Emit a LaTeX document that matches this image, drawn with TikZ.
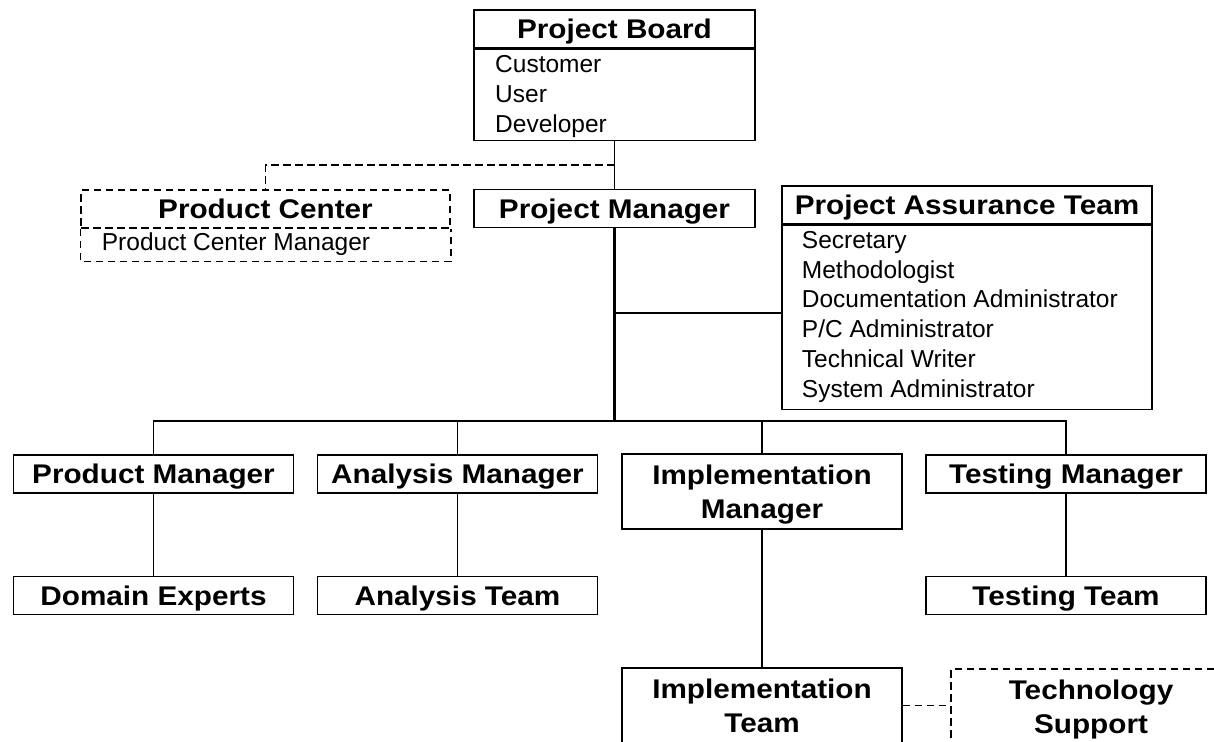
\documentclass[tikz,border=0pt]{standalone}
\usepackage{fontspec}
\setmainfont{Liberation Sans}
\newfontfamily\titlefont[FakeStretch=1.1]{Liberation Sans}
\begin{document}
\begin{tikzpicture}[x=1pt,y=-1pt,
  box/.style={draw, line width=1.5pt, rectangle, inner sep=0pt,
    minimum width=280pt, minimum height=38pt,
    font=\titlefont\bfseries\fontsize{27}{34}\selectfont,
    text height=19.5pt, text depth=0pt},
  tallbox/.style={box, minimum height=75pt, text height=53.5pt},
  dashbox/.style={dash pattern=on 7.5pt off 4.5pt},
  bodybox/.style={draw, line width=1.5pt, rectangle, inner sep=0pt, anchor=north},
  item/.style={anchor=base west, inner sep=0pt, font=\fontsize{24.5}{29}\selectfont},
  link/.style={line width=1.3pt},
  dlink/.style={link, dash pattern=on 7.5pt off 4.5pt},
  trunk/.style={line width=2.6pt}
]
\useasboundingbox (0,0) rectangle (1214,741);
\clip (0,0) rectangle (1214,741);

% Project Board with its members
\node[box, minimum width=281pt] (pb) at (614.5,29) {Project Board};
\node[bodybox, minimum width=281pt, minimum height=91pt] (pbbody) at (pb.south) {};
\node[item] (cust) at (495,73) {Customer};
\node[item] (user) at (495,102.5) {User};
\node[item] (dev) at (495,132) {Developer};

% Product Center (dotted line of authority)
\node[box, dashbox, minimum width=369pt] (pc) at (265.5,209) {Product Center};
\node[bodybox, draw=none, minimum width=369pt, minimum height=31pt] (pcbody) at (pc.south) {};
\draw[line width=1.5pt, dashbox] (pcbody.north west) -- (pcbody.south west)
  -- (pcbody.south east) -- (pcbody.north east);
\node[item] (pcm) at (101.7,250) {Product Center Manager};

% Project Manager
\node[box, minimum width=281pt] (pm) at (614.5,208.5) {Project Manager};

% Project Assurance Team
\node[box, minimum width=370pt] (pat) at (967,205) {Project Assurance Team};
\node[bodybox, minimum width=370pt, minimum height=184pt] (patbody) at (pat.south) {};
\node[item] (sec) at (801.7,248.3) {Secretary};
\node[item] (meth) at (801.7,278.1) {Methodologist};
\node[item] (doca) at (801.7,307.9) {Documentation Administrator};
\node[item] (pca) at (801.7,337.7) {P/C Administrator};
\node[item] (tw) at (801.7,367.5) {Technical Writer};
\node[item] (sysa) at (801.7,397.3) {System Administrator};

% Managers
\node[box] (prodm) at (153.5,474) {Product Manager};
\node[box] (anm) at (457.5,474) {Analysis Manager};
\node[tallbox] (implm) at (762,491.5) {\begin{tabular}[b]{@{}c@{}}Implementation\\Manager\end{tabular}};
\node[box] (testm) at (1066,474) {Testing Manager};

% Teams
\node[box] (dom) at (153.5,595.5) {Domain Experts};
\node[box] (ant) at (457.5,595.5) {Analysis Team};
\node[box] (testt) at (1066,595.5) {Testing Team};
\node[tallbox] (implt) at (762,705.5) {\begin{tabular}[b]{@{}c@{}}Implementation\\Team\end{tabular}};
\node[tallbox, dashbox] (ts) at (1091,706.5) {\begin{tabular}[b]{@{}c@{}}Technology\\Support\end{tabular}};

% Connectors
\coordinate (pbj) at (614.5,165);
\coordinate (patj) at (614.5,313);
\coordinate (bus) at (614.5,421);
\draw[link] (pbbody.south) -- (pm.north);
\draw[dlink] (pbj) -| (pc.north);
\draw[trunk] (pm.south) -- (bus);
\draw[link] (patj) -- (patj -| patbody.west);
\draw[link] (prodm.north) |- (bus) -| (testm.north);
\draw[link] (anm.north) -- (anm.north |- bus);
\draw[link] (implm.north) -- (implm.north |- bus);
\draw[link] (prodm.south) -- (dom.north);
\draw[link] (anm.south) -- (ant.north);
\draw[link] (testm.south) -- (testt.north);
\draw[link] (implm.south) -- (implt.north);
\draw[dlink] (implt.east) -- (implt.east -| ts.west);
\end{tikzpicture}
\end{document}
